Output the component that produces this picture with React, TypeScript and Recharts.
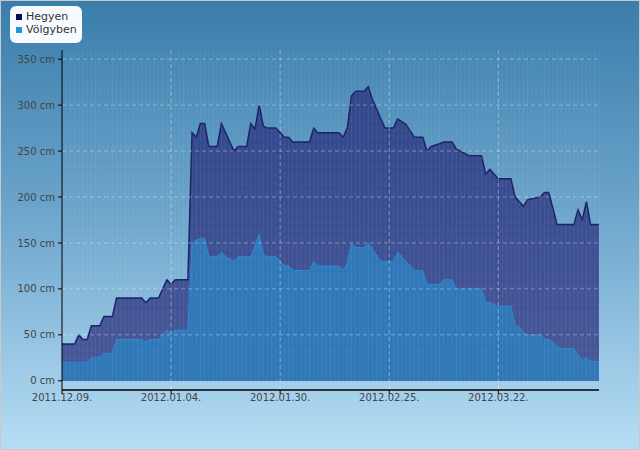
import React from "react";
import {
  AreaChart,
  Area,
  XAxis,
  YAxis,
  ReferenceLine,
} from "recharts";

// napok 2011.12.09-től
const days = [
  0, 3, 4, 5, 6, 7, 9, 10, 12, 13, 19, 20, 21, 23, 25, 26, 27, 30, 31, 32, 33,
  34, 35, 37, 38, 39, 41, 42, 44, 45, 46, 47, 48, 49, 51, 53, 54, 55, 59, 60,
  61, 66, 67, 68, 69, 70, 72, 73, 74, 76, 77, 79, 80, 82, 84, 86, 87, 88, 90,
  91, 93, 94, 95, 97, 100, 101, 102, 103, 104, 107, 108, 109, 110, 111, 114,
  115, 116, 117, 118, 119, 122, 123, 124, 125, 126, 128,
];
const hegyen = [
  40, 40, 50, 45, 45, 60, 60, 70, 70, 90, 90, 85, 90, 90, 110, 105, 110, 110,
  270, 265, 280, 280, 255, 255, 280, 270, 250, 255, 255, 280, 274, 300, 277,
  275, 275, 265, 265, 260, 260, 275, 270, 270, 265, 275, 310, 315, 315, 320,
  306, 285, 275, 275, 285, 279, 265, 265, 250, 255, 258, 260, 260, 252, 250,
  245, 245, 225, 230, 225, 220, 220, 200, 195, 190, 197, 200, 205, 205, 188,
  170, 170, 170, 186, 175, 195, 170, 170,
];
const volgyben = [
  20, 20, 20, 20, 20, 25, 25, 30, 30, 45, 45, 42, 45, 45, 55, 52, 55, 55, 150,
  153, 155, 155, 135, 135, 140, 135, 130, 135, 135, 135, 147, 160, 137, 135,
  135, 125, 125, 120, 120, 130, 125, 125, 120, 128, 150, 145, 145, 150, 143,
  130, 130, 130, 140, 130, 120, 120, 105, 105, 105, 110, 110, 100, 100, 100,
  100, 85, 85, 83, 81, 81, 60, 59, 52, 50, 50, 45, 45, 42, 37, 35, 35, 28, 22,
  25, 21, 21,
];

const xTicks = [0, 26, 52, 78, 104];
const xLabels = ["2011.12.09.", "2012.01.04.", "2012.01.30.", "2012.02.25.", "2012.03.22."];
const yTicks = [0, 50, 100, 150, 200, 250, 300, 350];
const lastDay = 128;

const data = days.map((d, i) => ({ day: d, hegyen: hegyen[i], volgyben: volgyben[i] }));
const minorDays = Array.from({ length: lastDay }, (_, i) => i + 1);

const font = "'DejaVu Sans', Verdana, sans-serif";

export default function App() {
  return (
    <div
      style={{
        position: "fixed",
        top: 0,
        left: 0,
        width: 640,
        height: 450,
        boxSizing: "border-box",
        border: "1px solid #c9c9c9",
        background: "linear-gradient(to bottom, #3a7dab 0%, #6aa3ca 45%, #b6ddf4 100%)",
      }}
    >
      <div style={{ position: "absolute", top: -1, left: -1 }}>
        <AreaChart
          width={640}
          height={450}
          data={data}
          margin={{ top: 50, right: 41, bottom: 30, left: 0 }}
        >
          <XAxis
            dataKey="day"
            type="number"
            domain={[0, lastDay]}
            ticks={xTicks}
            tickFormatter={(v) => xLabels[xTicks.indexOf(v)] ?? ""}
            axisLine={{ stroke: "#000", strokeWidth: 1.5 }}
            tickLine={{ stroke: "#000" }}
            tickSize={4}
            tickMargin={0}
            height={30}
            tick={{ fill: "#444", fontSize: 10, fontFamily: font }}
          />
          <YAxis
            type="number"
            domain={[-10, 360]}
            ticks={yTicks}
            tickFormatter={(v) => `${v} cm`}
            axisLine={{ stroke: "#000", strokeWidth: 1 }}
            tickLine={{ stroke: "#000" }}
            tickSize={4}
            tickMargin={3}
            width={62}
            tick={{ fill: "#444", fontSize: 10, fontFamily: font }}
          />
          <Area
            type="linear"
            dataKey="hegyen"
            stroke="#1b2265"
            strokeWidth={1.5}
            fill="#272d7a"
            fillOpacity={0.72}
            isAnimationActive={false}
          />
          <Area
            type="linear"
            dataKey="volgyben"
            stroke="#2d88d2"
            strokeWidth={1}
            fill="#3078b8"
            fillOpacity={1}
            isAnimationActive={false}
          />
          {minorDays.map((d) => (
            <ReferenceLine
              key={"m" + d}
              x={d}
              stroke="#ffffff"
              strokeOpacity={0.08}
              strokeDasharray="7.3 1.9"
            />
          ))}
          {yTicks.slice(1).map((v) => (
            <ReferenceLine
              key={"y" + v}
              y={v}
              stroke="#ffffff"
              strokeOpacity={0.35}
              strokeDasharray="4 3"
            />
          ))}
          {xTicks.slice(1).map((d) => (
            <ReferenceLine
              key={"x" + d}
              x={d}
              stroke="#ffffff"
              strokeOpacity={0.35}
              strokeDasharray="4 3"
            />
          ))}
        </AreaChart>
      </div>
      <div
        style={{
          position: "absolute",
          left: 9,
          top: 5,
          width: 72,
          height: 37,
          background: "#f7fbff",
          borderRadius: 6,
          fontFamily: font,
          fontSize: 11,
          color: "#333",
          lineHeight: "13px",
        }}
      >
        {[
          { name: "Hegyen", color: "#0b0b5c" },
          { name: "Völgyben", color: "#1d98de" },
        ].map((e, i) => (
          <div
            key={e.name}
            style={{ position: "absolute", left: 6, top: 4 + i * 13, display: "flex", alignItems: "center" }}
          >
            <span style={{ display: "inline-block", width: 6, height: 6, background: e.color, marginRight: 4 }} />
            {e.name}
          </div>
        ))}
      </div>
    </div>
  );
}
